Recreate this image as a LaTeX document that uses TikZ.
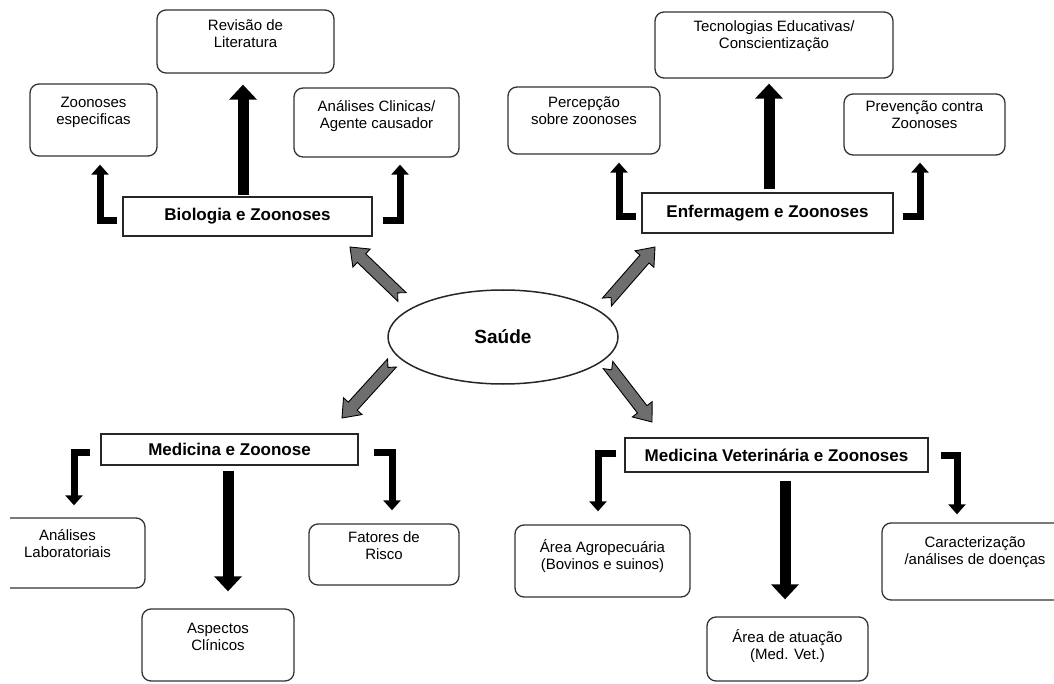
\documentclass[tikz,border=0pt]{standalone}
\usepackage{fontspec}
\setmainfont{Liberation Sans}
\usetikzlibrary{arrows.meta,calc,shapes.geometric}
\definecolor{garrowfill}{HTML}{6E6E6E}
\definecolor{boxline}{HTML}{333333}
\newcommand{\bt}[4]{\parbox[c][#2pt][t]{#1pt}{\centering\vspace*{#3pt}#4}}
\newcommand{\garrow}[2]{%
  \coordinate (gh) at ($(#2)!16pt!(#1)$);
  \filldraw[fill=garrowfill,draw=black,line width=0.9pt,line join=miter]
    ($(#1)!6pt!90:(#2)$) -- ($(gh)!6pt!-90:(#1)$) -- ($(gh)!12.5pt!-90:(#1)$) -- (#2)
    -- ($(gh)!12.5pt!90:(#1)$) -- ($(gh)!6pt!90:(#1)$) -- ($(#1)!6pt!-90:(#2)$)
    -- ($(#1)!6pt!(#2)$) -- cycle;}
\begin{document}
\begin{tikzpicture}[x=1pt,y=1pt,
  rbox/.style={draw=boxline,line width=1.3pt,rounded corners=9pt,inner sep=0pt,
    font=\fontsize{15}{17}\selectfont,text=black},
  tbox/.style={draw=black!85,line width=1.8pt,inner sep=0pt,
    font=\bfseries\fontsize{17}{19}\selectfont},
  bigarr/.style={line width=11pt,-{Triangle[width=27pt,length=15pt]}},
  elb/.style={line width=7pt,line join=miter,-{Triangle[width=17pt,length=10pt]}}]
\useasboundingbox (0,0) rectangle (1054,-684);
\begin{scope}
\clip (10,0) rectangle (1054,-684);
% top-left group
\node[rbox] (rev) at (245.5,-41.5) {\bt{177}{63}{10}{Revisão de\\Literatura}};
\node[rbox] (zoo) at (93.5,-120) {\bt{127}{72}{13}{Zoonoses\\especificas}};
\node[rbox] (acl) at (376.5,-122.5) {\bt{165}{69}{12}{Análises Clinicas/\\Agente causador}};
\node[tbox,minimum width=249pt,minimum height=39pt] (bio) at (247.5,-216.5) {Biologia e Zoonoses};
% top-right group
\node[rbox] (tec) at (774,-45) {\bt{238}{66}{9}{Tecnologias Educativas/\\Conscientização}};
\node[rbox] (per) at (584,-120.5) {\bt{152}{67}{10}{Percepção\\sobre zoonoses}};
\node[rbox] (pre) at (924.5,-124.5) {\bt{161}{61}{7}{Prevenção contra\\Zoonoses}};
\node[tbox,minimum width=251pt,minimum height=40pt] (enf) at (767.5,-213) {Enfermagem e Zoonoses};
% center
\node[draw=black!85,line width=1.5pt,ellipse,minimum width=230pt,minimum height=94pt,inner sep=0pt,
  font=\bfseries\fontsize{19}{21}\selectfont] (sau) at (503,-337) {Saúde};
% bottom-left group
\node[tbox,minimum width=257pt,minimum height=31pt] (med) at (229.5,-449.5) {Medicina e Zoonose};
\node[rbox] (lab) at (67.5,-553) {\bt{155}{70}{11}{Análises\\Laboratoriais}};
\node[rbox] (fat) at (384,-554.5) {\bt{150}{61}{8}{Fatores de\\Risco}};
\node[rbox] (asp) at (218,-645) {\bt{152}{72}{14}{Aspectos\\Clínicos}};
% bottom-right group
\node[tbox,minimum width=303pt,minimum height=34pt] (mvt) at (776.5,-455) {Medicina Veterinária e Zoonoses};
\node[rbox] (agr) at (602.5,-561) {\bt{175}{72}{14}{Área Agropecuária\\(Bovinos e suinos)}};
\node[rbox] (car) at (975,-561.5) {\bt{186}{77}{14}{Caracterização\\/análises de doenças}};
\node[rbox] (atu) at (787.5,-649) {\bt{161}{64}{12}{Área de atuação\\(Med. Vet.)}};
% big vertical arrows
\draw[bigarr] ([xshift=-4.5pt,yshift=1pt]bio.north) -- ([xshift=-2.5pt,yshift=-11pt]rev.south);
\draw[bigarr] ([xshift=1.5pt,yshift=3pt]enf.north) -- ([xshift=-5pt,yshift=-5pt]tec.south);
\draw[bigarr] ([xshift=-1.5pt,yshift=-5pt]med.south) -- ([xshift=10pt,yshift=17pt]asp.north);
\draw[bigarr] ([xshift=8.5pt,yshift=-8pt]mvt.south) -- ([xshift=-2.5pt,yshift=17pt]atu.north);
% elbow arrows
\draw[elb] ([xshift=-5pt,yshift=-4.5pt]bio.west) -| ([xshift=6.5pt,yshift=-8pt]zoo.south);
\draw[elb] ([xshift=10pt,yshift=-4.5pt]bio.east) -| ([xshift=23.5pt,yshift=-7pt]acl.south);
\draw[elb] ([xshift=-5pt,yshift=-4pt]enf.west) -| ([xshift=35pt,yshift=-8pt]per.south);
\draw[elb] ([xshift=9pt,yshift=-4pt]enf.east) -| ([xshift=-4.5pt,yshift=-7pt]pre.south);
\draw[elb] ([xshift=-10pt,yshift=-2.5pt]med.west) -| ([xshift=6.5pt,yshift=12pt]lab.north);
\draw[elb] ([xshift=15pt,yshift=-2.5pt]med.east) -| ([xshift=8pt,yshift=13pt]fat.north);
\draw[elb] ([xshift=-8pt,yshift=2pt]mvt.west) -| ([xshift=-4.5pt,yshift=13pt]agr.north);
\draw[elb] ([xshift=12pt]mvt.east) -| ([xshift=-18pt,yshift=8pt]car.north);
% gray block arrows from Saúde
\coordinate (g1a) at ($(sau.center)+(-101,40)$);
\coordinate (g1b) at ($(sau.center)+(-153,90)$);
\coordinate (g2a) at ($(sau.center)+(104,35)$);
\coordinate (g2b) at ($(sau.center)+(152,90)$);
\coordinate (g3a) at ($(sau.center)+(-111,-26)$);
\coordinate (g3b) at ($(sau.center)+(-161,-81)$);
\coordinate (g4a) at ($(sau.center)+(105,-28)$);
\coordinate (g4b) at ($(sau.center)+(149,-85)$);
\garrow{g1a}{g1b}
\garrow{g2a}{g2b}
\garrow{g3a}{g3b}
\garrow{g4a}{g4b}
\end{scope}
\end{tikzpicture}
\end{document}
